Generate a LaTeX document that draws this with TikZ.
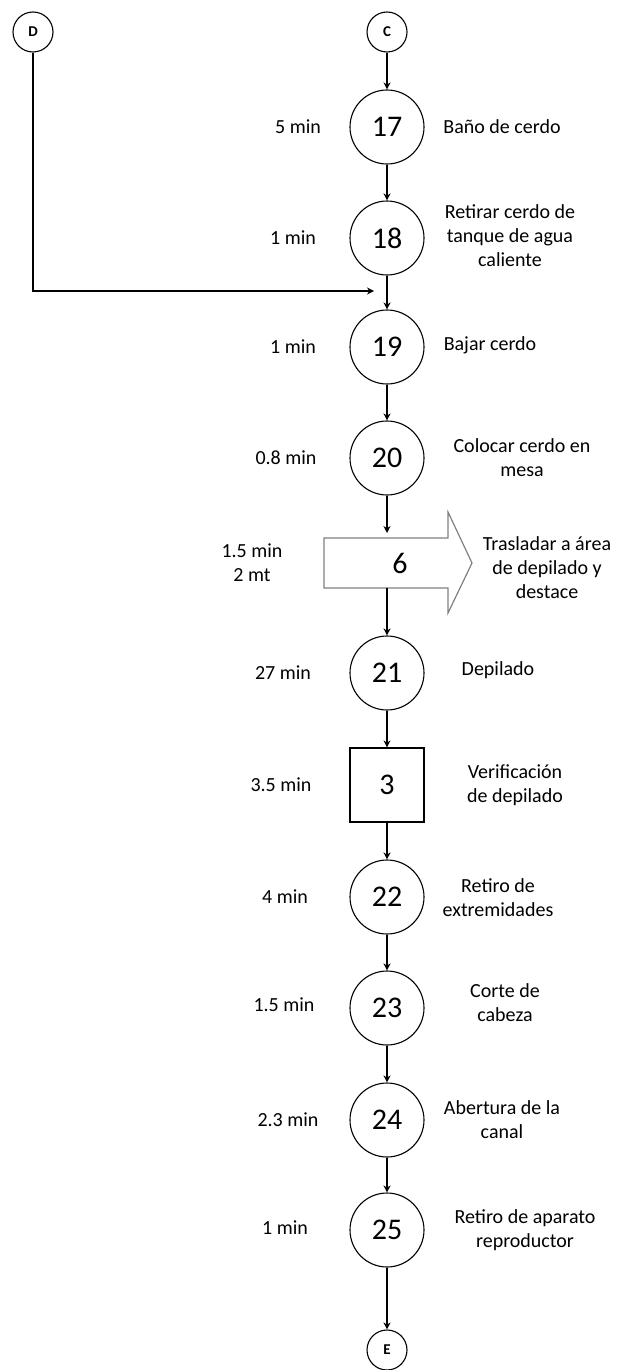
\documentclass[tikz,border=0pt]{standalone}
\usepackage{fontspec}
\setmainfont{Carlito}
\usetikzlibrary{arrows.meta,positioning}

\begin{document}
\begin{tikzpicture}[
    x=0.5pt, y=-0.5pt,
    op/.style={circle, draw, line width=0.55pt, minimum size=37pt, inner sep=0pt, font=\fontsize{15}{15}\selectfont},
    link/.style={circle, draw, line width=0.55pt, minimum size=20pt, inner sep=0pt, font=\fontsize{7.5}{8}\selectfont\bfseries},
    insp/.style={rectangle, draw, line width=0.6pt, minimum size=37pt, inner sep=0pt, font=\fontsize{15}{15}\selectfont},
    arrow/.style={-{Stealth[length=3.5pt,width=3.5pt]}, line width=0.6pt},
    time/.style={font=\fontsize{10}{12}\selectfont},
    desc/.style={align=center, font=\fontsize{10}{12}\selectfont}
]
    \useasboundingbox (0,0) rectangle (623,1370);

    % connectors in and out
    \node[link] (D) at (33,32) {D};
    \node[link] (C) at (387,32) {C};
    \node[link] (E) at (387,1350) {E};

    % operations
    \node[op] (o17) at (387,127) {17};
    \node[op] (o18) at (387,238) {18};
    \node[op] (o19) at (387,347) {19};
    \node[op] (o20) at (387,458) {20};
    \node[op] (o21) at (387,673) {21};
    \node[insp] (i3) at (387,785) {3};
    \node[op] (o22) at (387,897) {22};
    \node[op] (o23) at (387,1008) {23};
    \node[op] (o24) at (387,1120) {24};
    \node[op] (o25) at (387,1230) {25};

    % transport
    \draw[line width=0.6pt, draw=gray] (324,538) -- (448,538) -- (448,512) -- (472,563)
        -- (448,613) -- (448,588) -- (324,588) -- cycle;
    \node[font=\fontsize{15}{15}\selectfont] (t6) at (400,563) {6};
    \coordinate (t6in) at (387,533);
    \coordinate (t6out) at (387,588);
    \coordinate (join) at (374,291);

    % times
    \node[time] (m17) at (298,127) {5 min};
    \node[time] (m18) at (293,238) {1 min};
    \node[time] (m19) at (293,347) {1 min};
    \node[time] (m20) at (286,458) {0.8 min};
    \node[time, align=center] (m6) at (252,563) {1.5 min\\2 mt};
    \node[time] (m21) at (283,673) {27 min};
    \node[time] (m3) at (281,785) {3.5 min};
    \node[time] (m22) at (285,897) {4 min};
    \node[time] (m23) at (284,1005) {1.5 min};
    \node[time] (m24) at (288,1120) {2.3 min};
    \node[time] (m25) at (285,1228) {1 min};

    % descriptions
    \node[desc] (d17) at (502,127) {Baño de cerdo};
    \node[desc] (d18) at (510,236) {Retirar cerdo de\\tanque de agua\\caliente};
    \node[desc] (d19) at (490,345) {Bajar cerdo};
    \node[desc] (d20) at (522,458) {Colocar cerdo en\\mesa};
    \node[desc] (d6) at (547,568) {Trasladar a área\\de depilado y\\destace};
    \node[desc] (d21) at (498,670) {Depilado};
    \node[desc] (d3) at (515,785) {Verificación\\de depilado};
    \node[desc] (d22) at (498,898) {Retiro de\\extremidades};
    \node[desc] (d23) at (505,1003) {Corte de\\cabeza};
    \node[desc] (d24) at (502,1120) {Abertura de la\\canal};
    \node[desc] (d25) at (525,1230) {Retiro de aparato\\reproductor};

    % flow
    \draw[arrow] (C) -- (o17);
    \draw[arrow] (o17) -- (o18);
    \draw[arrow] (o18) -- (o19);
    \draw[arrow] (D) |- (join);
    \draw[arrow] (o19) -- (o20);
    \draw[arrow] (o20) -- (t6in);
    \draw[arrow] (t6out) -- (o21);
    \draw[arrow] (o21) -- (i3);
    \draw[arrow] (i3) -- (o22);
    \draw[arrow] (o22) -- (o23);
    \draw[arrow] (o23) -- (o24);
    \draw[arrow] (o24) -- (o25);
    \draw[arrow] (o25) -- (E);
\end{tikzpicture}
\end{document}
